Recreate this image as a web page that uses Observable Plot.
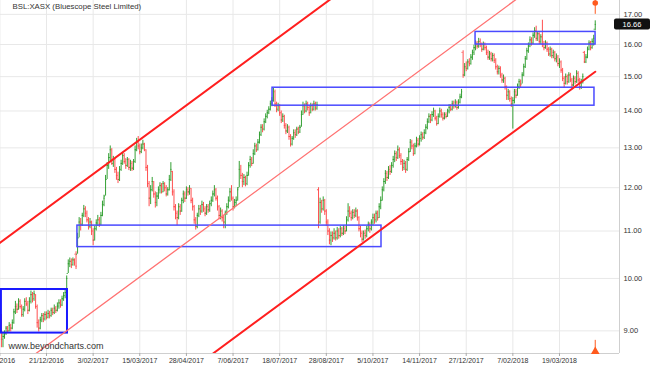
<!DOCTYPE html>
<html><head><meta charset="utf-8">
<script src="https://cdn.jsdelivr.net/npm/d3@7"></script>
<script src="https://cdn.jsdelivr.net/npm/@observablehq/plot@0.6"></script>
<style>body{margin:0;background:#fff} #chart{width:650px;height:367px}</style>
</head><body><div id="chart"></div>
<script>
// ---- tick labels (trading-day index every 30 sessions) ----
const tickIndex = [0,30,60,90,120,150,180,210,240,270,300,330,360];
const tickLabels = ["9/11/2016","21/12/2016","3/02/2017","15/03/2017","28/04/2017","7/06/2017","18/07/2017","28/08/2017","5/10/2017","14/11/2017","27/12/2017","7/02/2018","19/03/2018"];
const priceTicks = [9,10,11,12,13,14,15,16,17];
const titleText = "BSL:XASX (Bluescope Steel Limited)";
const watermark = "www.beyondcharts.com";

// ---- daily OHLC ----
const open = [
9.30,9.25,8.85,8.90,8.95,9.05,9.00,9.10,9.05,9.15,
9.35,9.45,9.40,9.55,9.45,9.30,9.40,9.55,9.50,9.38,
9.55,9.68,9.60,9.68,9.45,9.15,9.05,9.20,9.28,9.22,
9.30,9.25,9.32,9.28,9.38,9.34,9.42,9.38,9.46,9.52,
9.48,9.60,9.66,9.72,10.10,10.30,10.35,10.28,10.38,10.50,
10.50,10.85,11.20,11.15,11.35,11.50,11.40,11.25,11.10,11.20,
11.00,10.80,11.05,11.18,11.25,11.15,11.35,11.60,11.80,12.20,
12.55,12.75,12.95,12.60,12.70,12.45,12.30,12.20,12.45,12.60,
12.80,12.65,12.55,12.70,12.50,12.60,12.48,12.65,12.95,13.15,
13.05,12.90,13.00,13.10,12.95,12.50,12.10,11.75,11.95,12.15,
11.85,11.65,11.80,11.95,12.05,11.90,12.10,12.00,11.85,11.95,
12.20,12.40,11.90,11.55,11.40,11.30,11.55,11.45,11.70,11.85,
11.75,11.95,11.90,11.98,11.70,11.55,11.25,11.10,11.35,11.50,
11.45,11.60,11.50,11.40,11.55,11.48,11.62,11.70,11.85,11.95,
11.75,11.55,11.35,11.45,11.30,11.20,11.40,11.55,11.70,11.90,
11.75,11.55,11.65,11.70,12.00,12.45,12.30,12.15,12.25,12.10,
12.30,12.55,12.70,12.60,12.85,13.05,12.95,13.15,13.35,13.55,
13.50,13.70,13.85,13.95,14.05,14.20,14.30,14.55,14.20,14.05,
14.15,13.95,13.75,13.85,13.60,13.45,13.55,13.30,13.10,13.25,
13.40,13.35,13.50,13.42,13.55,13.90,14.15,14.00,14.20,14.10,
13.95,14.15,14.05,14.20,14.08,11.95,11.20,11.65,11.50,11.70,
11.45,11.20,11.00,10.80,10.90,10.85,10.95,10.85,11.00,10.90,
11.05,10.95,11.05,11.00,11.25,11.45,11.40,11.30,11.42,11.35,
11.45,11.30,11.05,10.95,10.82,10.95,10.90,11.05,11.15,11.05,
11.20,11.30,11.25,11.40,11.30,11.55,11.70,11.95,12.15,12.35,
12.25,12.45,12.40,12.55,12.70,12.85,12.75,12.95,12.80,12.65,
12.50,12.60,12.45,12.70,12.90,13.15,13.05,12.85,13.05,13.20,
13.10,13.25,13.35,13.28,13.40,13.55,13.70,13.85,13.75,13.90,
14.00,13.80,13.65,13.85,14.00,13.90,13.80,13.90,13.85,14.00,
14.10,14.05,14.20,14.15,14.25,14.10,14.25,14.40,15.75,15.05,
15.30,15.25,15.45,15.40,15.60,15.75,15.90,16.05,15.95,16.10,
16.00,15.85,16.00,15.90,15.75,15.60,15.70,15.55,15.65,15.50,
15.30,15.15,15.25,15.05,14.90,14.95,14.70,14.45,14.55,14.35,
14.20,14.30,14.55,14.45,14.70,14.85,14.78,15.05,15.30,15.55,
15.80,15.95,16.15,16.05,16.30,16.45,16.20,16.35,16.10,16.25,
16.00,15.90,16.05,15.85,15.70,15.85,15.65,15.75,15.55,15.60,
15.40,15.45,15.20,14.95,14.80,15.00,14.85,15.05,14.90,14.75,
14.95,14.85,15.10,14.90,14.70,14.85,15.75,15.45,15.60,15.85,
16.05,15.90,16.10,16.50];
const high = [
9.35,9.30,8.98,9.00,9.08,9.08,9.15,9.12,9.20,9.40,
9.55,9.50,9.60,9.58,9.48,9.45,9.60,9.62,9.55,9.62,
9.75,9.72,9.75,9.68,9.48,9.20,9.25,9.32,9.32,9.35,
9.35,9.38,9.36,9.42,9.42,9.48,9.45,9.52,9.58,9.58,
9.65,9.72,9.78,10.05,10.38,10.42,10.40,10.42,10.40,10.55,
10.95,11.30,11.28,11.40,11.58,11.55,11.45,11.30,11.28,11.22,
11.05,11.10,11.25,11.35,11.30,11.42,11.68,11.82,12.30,12.62,
12.85,13.05,12.98,12.78,12.72,12.50,12.38,12.52,12.68,12.88,
12.85,12.72,12.75,12.72,12.68,12.65,12.70,13.05,13.25,13.30,
13.10,13.10,13.20,13.12,12.95,12.55,12.15,12.05,12.25,12.15,
11.90,11.88,12.02,12.12,12.10,12.15,12.12,12.05,12.00,12.30,
12.62,12.40,11.95,11.60,11.45,11.62,11.60,11.75,11.92,11.90,
12.02,12.00,12.05,11.98,11.75,11.58,11.30,11.40,11.58,11.58,
11.68,11.65,11.55,11.60,11.60,11.68,11.78,11.92,12.05,11.98,
11.80,11.58,11.52,11.48,11.35,11.45,11.62,11.78,11.98,12.05,
11.78,11.72,11.78,12.00,12.65,12.55,12.35,12.32,12.28,12.38,
12.62,12.78,12.75,12.95,13.12,13.10,13.22,13.42,13.62,13.62,
13.78,13.92,14.02,14.12,14.28,14.38,14.65,14.60,14.25,14.22,
14.18,14.00,13.92,13.88,13.65,13.62,13.58,13.35,13.30,13.48,
13.48,13.55,13.55,13.60,14.00,14.25,14.20,14.28,14.25,14.15,
14.22,14.20,14.28,14.25,14.25,12.00,11.75,11.70,11.78,11.72,
11.48,11.25,11.05,10.98,10.98,11.05,11.00,11.08,11.05,11.10,
11.08,11.12,11.10,11.32,11.62,11.55,11.45,11.48,11.48,11.52,
11.48,11.32,11.10,11.00,11.00,11.02,11.10,11.20,11.18,11.25,
11.38,11.38,11.45,11.45,11.62,11.78,12.02,12.22,12.42,12.40,
12.52,12.55,12.62,12.78,12.92,12.90,13.05,13.00,12.85,12.70,
12.68,12.65,12.75,12.98,13.22,13.20,13.10,13.12,13.28,13.25,
13.32,13.42,13.40,13.48,13.62,13.78,13.92,13.90,13.98,14.08,
14.02,13.85,13.92,14.08,14.05,13.95,13.95,13.95,14.05,14.18,
14.18,14.28,14.28,14.32,14.28,14.32,14.48,14.62,15.80,15.40,
15.45,15.52,15.55,15.68,15.82,15.98,16.12,16.10,16.20,16.18,
16.05,16.08,16.05,15.95,15.82,15.78,15.75,15.72,15.70,15.55,
15.35,15.32,15.30,15.10,15.05,14.98,14.72,14.62,14.58,14.40,
14.38,14.62,14.62,14.78,14.92,14.90,15.12,15.38,15.62,15.88,
16.05,16.25,16.22,16.38,16.55,16.60,16.42,16.38,16.32,16.80,
16.10,16.12,16.08,15.90,15.92,15.88,15.82,15.78,15.70,15.65,
15.55,15.48,15.25,15.00,15.08,15.05,15.12,15.10,14.95,15.02,
15.00,15.18,15.15,14.95,14.92,15.08,15.78,15.68,15.92,16.12,
16.10,16.18,16.30,16.78];
const low = [
9.15,8.70,8.70,8.85,8.92,8.95,8.98,8.98,9.02,9.12,
9.30,9.32,9.38,9.40,9.25,9.25,9.35,9.45,9.30,9.35,
9.50,9.52,9.55,9.40,9.05,8.98,9.02,9.15,9.15,9.18,
9.20,9.22,9.22,9.25,9.28,9.30,9.32,9.35,9.40,9.42,
9.45,9.55,9.60,9.70,10.10,10.22,10.20,10.25,10.25,10.18,
10.50,10.85,11.00,11.10,11.30,11.30,11.18,11.02,11.05,10.90,
10.68,10.78,11.00,11.10,11.08,11.12,11.32,11.55,11.80,12.20,
12.45,12.65,12.55,12.50,12.35,12.18,12.10,12.15,12.40,12.55,
12.58,12.45,12.50,12.42,12.40,12.40,12.42,12.60,12.90,12.95,
12.82,12.85,12.95,12.90,12.40,12.00,11.55,11.60,11.90,11.75,
11.52,11.55,11.72,11.85,11.85,11.88,11.90,11.78,11.80,11.92,
12.15,11.80,11.45,11.25,11.12,11.25,11.35,11.42,11.62,11.65,
11.72,11.80,11.82,11.62,11.45,11.15,11.02,11.05,11.30,11.35,
11.40,11.42,11.32,11.35,11.40,11.42,11.55,11.65,11.78,11.68,
11.45,11.25,11.25,11.20,11.05,11.05,11.35,11.50,11.65,11.68,
11.45,11.50,11.55,11.68,12.00,12.20,12.00,12.05,12.02,12.05,
12.28,12.48,12.52,12.58,12.80,12.88,12.92,13.10,13.30,13.40,
13.45,13.65,13.78,13.90,14.00,14.12,14.25,14.10,13.95,13.98,
13.85,13.65,13.68,13.50,13.35,13.38,13.20,13.02,13.05,13.20,
13.25,13.30,13.35,13.38,13.55,13.88,13.92,13.95,14.00,13.85,
13.92,13.98,14.00,14.00,14.02,11.05,11.15,11.40,11.45,11.35,
11.10,10.90,10.70,10.68,10.75,10.80,10.78,10.80,10.82,10.85,
10.88,10.90,10.92,10.98,11.20,11.30,11.22,11.25,11.28,11.30,
11.22,10.98,10.85,10.75,10.78,10.82,10.85,10.98,10.95,11.00,
11.12,11.15,11.18,11.22,11.28,11.48,11.68,11.90,12.08,12.15,
12.20,12.30,12.35,12.48,12.62,12.65,12.70,12.72,12.55,12.40,
12.42,12.35,12.40,12.65,12.88,12.95,12.78,12.82,13.00,13.02,
13.05,13.15,13.20,13.22,13.35,13.48,13.65,13.65,13.70,13.82,
13.72,13.58,13.62,13.80,13.80,13.72,13.75,13.78,13.82,13.92,
13.98,14.00,14.05,14.08,14.02,14.05,14.20,14.35,14.95,15.00,
15.15,15.20,15.30,15.35,15.50,15.65,15.80,15.85,15.88,15.90,
15.75,15.80,15.80,15.65,15.50,15.50,15.45,15.45,15.40,15.20,
15.05,15.05,14.95,14.80,14.80,14.60,14.30,14.30,14.25,14.10,
13.50,14.20,14.35,14.42,14.62,14.65,14.78,15.00,15.25,15.50,
15.72,15.90,15.95,16.00,16.20,16.10,16.10,16.00,16.00,15.90,
15.80,15.85,15.75,15.62,15.60,15.55,15.55,15.45,15.42,15.30,
15.25,15.10,14.85,14.65,14.75,14.75,14.80,14.82,14.65,14.70,
14.75,14.80,14.80,14.60,14.62,14.78,15.40,15.40,15.55,15.80,
15.80,15.85,15.95,16.45];
const close = [
9.25,8.85,8.90,8.95,9.05,9.00,9.10,9.05,9.15,9.35,
9.45,9.40,9.55,9.45,9.30,9.40,9.55,9.50,9.38,9.55,
9.68,9.60,9.70,9.45,9.15,9.05,9.20,9.28,9.22,9.30,
9.25,9.32,9.28,9.38,9.34,9.42,9.38,9.46,9.52,9.48,
9.60,9.66,9.72,10.00,10.30,10.35,10.28,10.38,10.32,10.25,
10.85,11.20,11.15,11.35,11.50,11.40,11.25,11.10,11.20,11.00,
10.80,11.05,11.18,11.25,11.15,11.35,11.60,11.75,12.20,12.55,
12.75,12.95,12.60,12.70,12.45,12.30,12.20,12.45,12.60,12.80,
12.65,12.55,12.70,12.50,12.60,12.48,12.65,12.95,13.15,13.05,
12.90,13.00,13.10,12.95,12.50,12.10,11.75,11.95,12.15,11.85,
11.65,11.80,11.95,12.05,11.90,12.10,12.00,11.85,11.95,12.20,
12.45,11.90,11.55,11.40,11.30,11.55,11.45,11.70,11.85,11.75,
11.95,11.90,12.00,11.70,11.55,11.25,11.10,11.35,11.50,11.45,
11.60,11.50,11.40,11.55,11.48,11.62,11.70,11.85,11.95,11.75,
11.55,11.35,11.45,11.30,11.20,11.40,11.55,11.70,11.90,11.75,
11.55,11.65,11.70,11.95,12.45,12.30,12.15,12.25,12.10,12.30,
12.55,12.70,12.60,12.85,13.05,12.95,13.15,13.35,13.55,13.50,
13.70,13.85,13.95,14.05,14.20,14.30,14.55,14.20,14.05,14.15,
13.95,13.75,13.85,13.60,13.45,13.55,13.30,13.10,13.25,13.40,
13.35,13.50,13.42,13.55,13.90,14.15,14.00,14.20,14.10,13.95,
14.15,14.05,14.20,14.08,14.18,11.20,11.65,11.50,11.70,11.45,
11.20,11.00,10.80,10.90,10.85,10.95,10.85,11.00,10.90,11.05,
10.95,11.05,11.00,11.25,11.45,11.40,11.30,11.42,11.35,11.45,
11.30,11.05,10.95,10.82,10.95,10.90,11.05,11.15,11.05,11.20,
11.30,11.25,11.40,11.30,11.55,11.70,11.95,12.15,12.35,12.25,
12.45,12.40,12.55,12.70,12.85,12.75,12.95,12.80,12.65,12.50,
12.60,12.45,12.70,12.90,13.15,13.05,12.85,13.05,13.20,13.10,
13.25,13.35,13.28,13.40,13.55,13.70,13.85,13.75,13.90,14.00,
13.80,13.65,13.85,14.00,13.90,13.80,13.90,13.85,14.00,14.10,
14.05,14.20,14.15,14.25,14.10,14.25,14.40,14.55,15.05,15.30,
15.25,15.45,15.40,15.60,15.75,15.90,16.05,15.95,16.10,16.00,
15.85,16.00,15.90,15.75,15.60,15.70,15.55,15.65,15.50,15.30,
15.15,15.25,15.05,14.90,14.95,14.70,14.45,14.55,14.35,14.20,
14.30,14.55,14.45,14.70,14.85,14.75,15.05,15.30,15.55,15.80,
15.95,16.15,16.05,16.30,16.45,16.20,16.35,16.10,16.25,16.00,
15.90,16.05,15.85,15.70,15.85,15.65,15.75,15.55,15.60,15.40,
15.45,15.20,14.95,14.80,15.00,14.85,15.05,14.90,14.75,14.95,
14.85,15.10,14.90,14.70,14.85,15.00,15.45,15.60,15.85,16.05,
15.90,16.10,16.20,16.66];

// ---- drawn annotations (index, price) ----
const channelUpper = [{i: -12, p: 10.45}, {i: 226, p: 18.07}];
const channelMiddle = [{i: 13, p: 8.40}, {i: 341, p: 17.88}];
const channelLower = [{i: 129, p: 8.44}, {i: 383, p: 15.15}];
const boxStrong = [{i1: 1, i2: 43.5, p1: 8.96, p2: 9.78}];
const boxes = [
  {i1: 49.9, i2: 245.5, p1: 10.65, p2: 11.12},
  {i1: 175.4, i2: 382.5, p1: 14.15, p2: 14.67},
  {i1: 306, i2: 383.2, p1: 16.0, p2: 16.41}
];
const events = [{i: 383, top: 17.0, bottom: 8.83}];

const xDomain = [0.41, 398.6];
const yDomain = [8.6, 17.48];

const bars = close.map((c, i) => ({i, o: open[i], h: high[i], l: low[i], c}));
const col = d => d.c >= d.o ? "#34a034" : "#ff5050";
const labelOf = new Map(tickIndex.map((t, k) => [t, tickLabels[k]]));
const evColor = "#ff5a1e";

const chart = Plot.plot({
  width: 650, height: 367,
  marginLeft: 0, marginRight: 31, marginTop: 0, marginBottom: 14,
  x: {domain: xDomain, axis: null},
  y: {type: "log", domain: yDomain, axis: null},
  color: {type: "identity"},
  style: {fontFamily: "'Liberation Sans', Arial, sans-serif", background: "#fff", overflow: "visible"},
  marks: [
    Plot.gridY(priceTicks, {stroke: "#e8e8e8", strokeOpacity: 1}),
    Plot.gridX(tickIndex, {stroke: "#e8e8e8", strokeOpacity: 1}),
    Plot.ruleX([xDomain[1]], {stroke: "#cfcfcf"}),
    Plot.ruleY([yDomain[0]], {stroke: "#cfcfcf"}),
    Plot.axisX(tickIndex, {anchor: "bottom", tickSize: 3, tickPadding: 2, fontSize: 7, stroke: "#aaa", fill: "#333", tickFormat: d => labelOf.get(d), label: null}),
    Plot.axisY(priceTicks, {anchor: "right", tickSize: 0, tickPadding: 4, fontSize: 7.5, fill: "#333", tickFormat: d => d.toFixed(2), label: null}),
    Plot.ruleX(bars, {x: "i", y1: "l", y2: "h", stroke: col, strokeWidth: 1, clip: true}),
    Plot.ruleY(bars, {y: "o", x1: d => d.i - 0.7, x2: "i", stroke: col, strokeWidth: 1, clip: true}),
    Plot.ruleY(bars, {y: "c", x1: "i", x2: d => d.i + 0.7, stroke: col, strokeWidth: 1, clip: true}),
    Plot.rect(boxes, {x1: "i1", x2: "i2", y1: "p1", y2: "p2", fill: "none", stroke: "#4a4aff", strokeWidth: 1.5, clip: true}),
    Plot.rect(boxStrong, {x1: "i1", x2: "i2", y1: "p1", y2: "p2", fill: "none", stroke: "#1a1aff", strokeWidth: 2, clip: true}),
    Plot.line(channelMiddle, {x: "i", y: "p", stroke: "#ff7272", strokeWidth: 1.3, clip: true}),
    Plot.line(channelUpper, {x: "i", y: "p", stroke: "#ff1f1f", strokeWidth: 2, clip: true}),
    Plot.line(channelLower, {x: "i", y: "p", stroke: "#ff1f1f", strokeWidth: 2, clip: true}),
    Plot.ruleX(events, {x: "i", y1: "top", y2: yDomain[1], stroke: evColor, strokeWidth: 1}),
    Plot.ruleX(events, {x: "i", y1: yDomain[0], y2: "bottom", stroke: evColor, strokeWidth: 1}),
    Plot.dot(events, {x: "i", frameAnchor: "top", dy: 2.5, r: 2.8, fill: evColor, stroke: "none"}),
    Plot.dot(events, {x: "i", frameAnchor: "bottom", dy: -2, symbol: "triangle", r: 3.2, fill: evColor, stroke: "none"}),
    Plot.text([titleText], {frameAnchor: "top-left", dx: 12, dy: 3, lineAnchor: "top", textAnchor: "start", fontSize: 7.8, fill: "#333"}),
    Plot.text([watermark], {frameAnchor: "bottom-left", dx: 8, dy: -5, lineAnchor: "bottom", textAnchor: "start", fontSize: 9, fill: "#333"})
  ]
});
document.getElementById("chart").append(chart);

// last price tag in the right margin, positioned through the plot's y scale
const last = close[close.length - 1];
const yLast = chart.scale("y").apply(last);
const svg = d3.select(chart);
const tag = svg.append("g");
tag.append("rect").attr("x", 614).attr("y", yLast - 5.5).attr("width", 36).attr("height", 11).attr("rx", 2).attr("fill", "#111");
tag.append("text").attr("x", 632).attr("y", yLast).attr("dy", "0.35em").attr("text-anchor", "middle")
  .attr("fill", "#fff").attr("font-size", 7.5).attr("font-family", "'Liberation Sans', Arial, sans-serif").text(last.toFixed(2));
</script>
</body></html>
